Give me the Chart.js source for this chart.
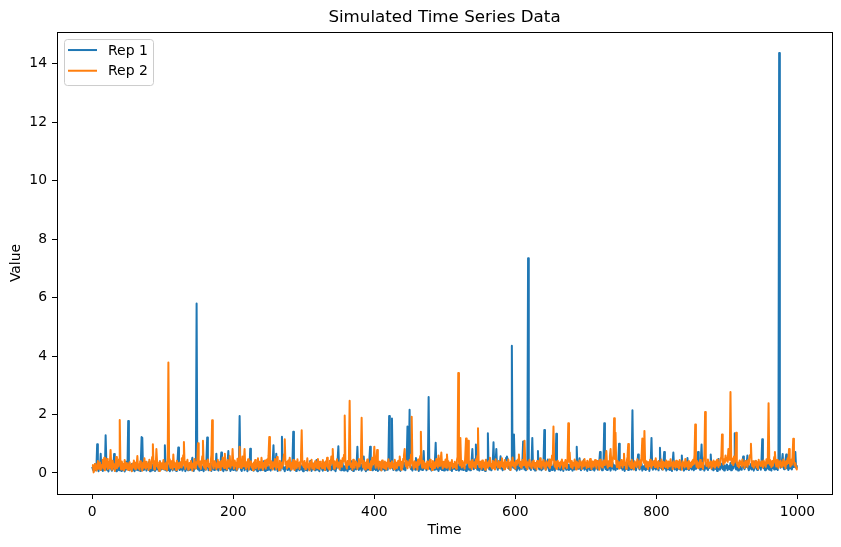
<!DOCTYPE html>
<html>
<head>
<meta charset="utf-8">
<script src="https://cdn.jsdelivr.net/npm/chart.js@4.4.1/dist/chart.umd.min.js"></script>
<style>
  html, body { margin: 0; padding: 0; background: #fff; }
  #chart { display: block; }
</style>
</head>
<body>
<canvas id="chart" width="841" height="547"></canvas>
<script>
const xTicks = [0, 200, 400, 600, 800, 1000];
const yTicks = [0, 2, 4, 6, 8, 10, 12, 14];

// Rep 1, one row = 25 time steps
const rep1 = [
    0.21,0.12,0.08,0.15,0.31,0.09,0.22,0.98,0.14,0.06,0.27,0.18,0.66,0.11,0.24,0.07,0.35,0.13,0.20,1.29,0.42,0.10,0.16,0.05,0.28,
    0.19,0.34,0.12,0.08,0.23,0.15,0.65,0.10,0.29,0.06,0.17,0.41,0.13,0.09,0.25,0.20,0.07,0.32,0.14,0.11,0.26,0.05,0.18,0.38,0.12,
    0.22,1.78,0.15,0.09,0.27,0.13,0.31,0.08,0.19,0.24,0.06,0.16,0.35,0.11,0.20,0.09,0.28,0.14,0.07,0.45,1.23,1.20,0.17,0.10,0.26,
    0.13,0.30,0.08,0.21,0.15,0.37,0.11,0.06,0.24,0.18,0.09,0.29,0.14,0.20,0.07,0.33,0.12,0.19,0.25,0.08,0.16,0.40,0.10,0.22,0.14,
    0.18,0.27,0.12,0.95,0.20,0.08,0.15,0.31,0.10,0.23,0.06,0.17,0.28,0.13,0.09,0.36,0.19,0.11,0.25,0.07,0.21,0.44,0.87,0.16,0.10,
    0.24,0.13,0.30,0.08,0.19,0.15,0.27,0.06,0.21,0.12,0.34,0.09,0.18,0.25,0.11,0.20,0.38,0.52,0.14,0.07,0.23,0.16,0.42,5.80,0.19,
    0.12,0.26,0.08,0.17,0.31,0.10,0.22,0.14,0.06,0.28,0.18,0.11,0.47,1.21,0.20,0.09,0.25,0.13,0.33,0.07,0.19,0.15,0.29,0.10,0.23,
    0.14,0.66,0.12,0.21,0.08,0.27,0.16,0.35,0.70,0.11,0.19,0.06,0.24,0.13,0.30,0.09,0.18,0.40,0.75,0.15,0.22,0.07,0.28,0.12,0.20,
    0.10,0.25,0.16,0.33,0.08,0.19,0.13,0.29,0.45,1.95,0.21,0.11,0.07,0.24,0.17,0.32,0.09,0.20,0.14,0.27,0.06,0.18,0.36,0.12,0.83,
    0.22,0.10,0.17,0.28,0.08,0.15,0.34,0.12,0.21,0.06,0.26,0.14,0.19,0.09,0.31,0.16,0.11,0.23,0.40,0.13,0.07,0.20,0.27,0.10,0.18,
    0.25,0.12,0.19,0.08,0.30,0.15,0.43,0.95,0.20,0.11,0.28,0.66,0.14,0.07,0.22,0.17,0.33,0.09,0.38,1.24,0.26,0.13,0.18,0.06,0.21,
    0.15,0.29,0.10,0.20,0.12,0.35,0.08,0.17,0.24,0.46,1.41,0.19,0.11,0.27,0.07,0.16,0.22,0.13,0.31,0.09,0.18,0.26,0.12,0.20,0.06,
    0.23,0.14,0.30,0.10,0.19,0.08,0.25,0.16,0.12,0.41,0.21,0.07,0.28,0.13,0.18,0.34,0.09,0.22,0.44,0.15,0.11,0.26,0.06,0.20,0.17,
    0.29,0.12,0.08,0.22,0.15,0.36,0.10,0.19,0.27,0.07,0.16,0.24,0.13,0.32,0.09,0.20,0.14,0.38,0.11,0.25,0.06,0.18,0.30,0.47,0.91,
    0.20,0.12,0.27,0.09,0.17,0.33,0.14,0.08,0.23,0.19,0.11,0.29,0.06,0.16,0.25,0.13,0.21,0.40,0.10,0.18,0.07,0.28,0.15,0.22,0.12,
    0.35,0.90,0.17,0.10,0.24,0.14,0.30,0.08,0.19,0.27,0.56,0.12,0.21,0.06,0.16,0.26,0.11,0.33,0.48,0.90,0.20,0.13,0.09,0.25,0.18,
    0.14,0.29,0.10,0.22,0.17,0.07,0.31,0.12,0.20,0.26,0.09,0.15,0.37,0.13,0.23,0.08,0.18,0.28,0.11,0.21,0.50,1.95,0.24,0.16,0.41,
    1.86,0.22,0.10,0.18,0.27,0.13,0.08,0.24,0.16,0.32,0.11,0.20,0.07,0.26,0.15,0.19,0.35,0.12,0.23,0.09,0.30,0.52,1.59,0.28,0.44,
    2.16,0.25,0.13,0.19,0.08,0.30,0.16,0.22,0.11,0.51,0.20,0.14,0.27,0.07,0.18,0.33,0.12,0.24,0.10,0.38,0.75,0.19,0.15,0.29,0.09,
    0.21,0.42,2.60,0.26,0.13,0.18,0.08,0.25,0.15,0.31,0.11,0.45,1.03,0.20,0.12,0.27,0.07,0.17,0.23,0.14,0.30,0.10,0.19,0.26,0.08,
    0.16,0.24,0.12,0.20,0.09,0.28,0.15,0.33,0.11,0.19,0.07,0.22,0.30,0.14,0.18,0.26,0.10,0.21,0.13,0.29,0.08,0.17,0.24,0.12,0.35,
    0.19,0.10,0.27,0.14,0.22,0.07,0.16,0.31,0.12,0.20,0.25,0.09,0.18,0.44,0.82,0.23,0.13,0.30,0.48,0.97,0.21,0.11,0.17,0.26,0.08,
    0.24,0.15,0.33,0.10,0.20,0.13,0.28,0.07,0.18,0.25,0.46,1.36,0.22,0.12,0.30,0.16,0.09,0.27,0.41,1.05,0.19,0.14,0.38,0.82,0.20,
    0.11,0.26,0.17,0.32,0.57,0.15,0.23,0.09,0.19,0.28,0.13,0.40,0.52,0.56,0.48,0.21,0.14,0.27,0.10,0.36,4.35,0.25,0.18,1.32,0.20,
    0.13,0.29,0.08,0.22,0.16,0.31,0.11,0.19,0.26,0.14,0.43,1.08,0.21,0.12,0.28,0.09,0.18,0.37,7.35,0.26,0.15,0.23,0.10,0.40,1.20,
    0.21,0.13,0.27,0.08,0.18,0.33,0.39,0.75,0.20,0.12,0.25,0.16,0.09,0.30,0.14,0.45,1.47,0.22,0.11,0.19,0.28,0.46,0.15,0.07,0.24,
    0.17,0.29,0.10,0.21,0.14,0.32,0.08,0.42,1.34,0.23,0.16,0.12,0.27,0.19,0.09,0.30,0.13,0.22,0.07,0.25,0.18,0.35,0.11,0.20,0.15,
    0.28,0.10,0.19,0.24,0.13,0.31,0.08,0.17,0.26,0.12,0.21,0.40,0.90,0.18,0.14,0.27,0.50,0.20,0.09,0.23,0.15,0.32,0.44,0.11,0.19,
    0.25,0.13,0.07,0.21,0.30,0.16,0.10,0.24,0.18,0.33,0.12,0.20,0.08,0.27,0.15,0.22,0.36,0.11,0.19,0.41,0.72,0.26,0.14,0.09,0.23,
    0.45,1.70,0.20,0.13,0.28,0.10,0.18,0.25,0.15,0.31,0.08,0.21,0.17,0.34,0.12,0.26,0.19,0.09,0.23,0.30,0.14,0.43,1.00,0.37,0.20,
    0.16,0.29,0.11,0.22,0.18,0.07,0.27,0.14,0.20,0.33,0.10,0.24,0.17,0.39,0.12,0.48,2.15,0.25,0.13,0.19,0.28,0.09,0.21,0.35,0.63,
    0.18,0.12,0.26,0.15,0.31,0.08,0.20,0.23,0.13,0.29,0.10,0.17,0.36,0.14,0.22,0.07,0.27,0.44,1.20,0.19,0.11,0.25,0.16,0.30,0.12,
    0.21,0.14,0.28,0.09,0.40,0.86,0.18,0.24,0.12,0.20,0.35,0.72,0.15,0.26,0.08,0.19,0.31,0.13,0.22,0.10,0.27,0.16,0.07,0.38,0.70,
    0.23,0.12,0.19,0.29,0.09,0.17,0.25,0.14,0.32,0.11,0.21,0.60,0.18,0.26,0.08,0.15,0.30,0.13,0.22,0.51,0.19,0.10,0.27,0.16,0.34,
    0.12,0.20,0.25,0.09,0.18,0.31,0.14,0.23,0.42,0.72,0.16,0.28,0.11,0.47,0.97,0.20,0.13,0.26,0.08,0.19,0.33,0.15,0.22,0.10,0.27,
    0.17,0.36,0.63,0.21,0.12,0.25,0.09,0.19,0.30,0.14,0.23,0.07,0.28,0.48,0.16,0.11,0.24,0.18,0.32,0.13,0.20,0.08,0.26,0.15,0.21,
    0.29,0.10,0.18,0.24,0.13,0.34,0.09,0.20,0.27,0.15,0.45,1.36,0.22,0.12,0.19,0.30,0.08,0.25,0.16,0.21,0.11,0.28,0.39,0.56,0.17,
    0.13,0.26,0.20,0.35,0.60,0.18,0.09,0.23,0.15,0.31,0.12,0.20,0.27,0.08,0.19,0.40,0.24,0.14,0.10,0.29,0.17,0.22,0.33,0.11,0.43,
    1.15,0.25,0.16,0.20,0.09,0.28,0.13,0.22,0.34,0.15,0.11,0.26,0.19,0.08,0.30,0.17,0.23,0.12,0.40,0.20,0.14,0.27,0.10,0.46,14.37,
    0.31,0.18,0.24,0.42,0.65,0.20,0.13,0.27,0.45,0.63,0.16,0.22,0.10,0.29,0.15,0.35,0.19,0.12,0.25,0.41,0.20,0.48,0.72,0.18,0.26,
];

// Rep 2, one row = 25 time steps
const rep2 = [
    0.20,0.27,0.02,0.12,0.31,0.18,0.08,0.25,0.41,0.14,0.22,0.36,0.10,0.19,0.28,0.45,0.15,0.52,0.09,0.30,0.21,0.48,0.13,0.38,0.17,
    0.33,0.79,0.24,0.11,0.42,0.19,0.30,0.07,0.26,0.55,0.16,0.35,0.22,0.47,1.81,0.28,0.12,0.39,0.20,0.31,0.09,0.44,0.25,0.15,0.34,
    0.21,0.10,0.29,0.37,0.14,0.26,0.06,0.32,0.19,0.43,0.23,0.13,0.36,0.28,0.58,0.17,0.30,0.11,0.40,0.22,0.27,0.08,0.35,0.18,0.50,
    0.24,0.14,0.38,0.20,0.31,0.10,0.45,0.26,0.16,0.34,0.55,0.98,0.29,0.12,0.41,0.23,0.82,0.36,0.18,0.27,0.07,0.39,0.21,0.33,0.15,
    0.28,0.44,0.13,0.30,0.22,0.36,0.09,0.52,3.78,0.47,0.25,0.17,0.40,0.31,0.12,0.63,0.20,0.35,0.27,0.10,0.42,0.24,0.33,0.16,0.29,
    0.37,0.19,0.50,0.26,0.61,1.06,0.30,0.14,0.38,0.22,0.45,0.11,0.28,0.34,0.18,0.41,0.25,0.08,0.32,0.20,0.48,0.15,0.36,0.27,0.43,
    1.02,0.33,0.21,0.39,0.14,0.30,0.57,1.10,0.26,0.18,0.42,0.12,0.35,0.24,0.46,0.20,0.31,0.09,0.38,0.62,1.80,0.28,0.16,0.40,0.23,
    0.34,0.13,0.29,0.45,0.19,0.37,0.25,0.10,0.41,0.22,0.53,0.30,0.17,0.66,0.27,0.36,0.12,0.44,0.21,0.32,0.58,0.18,0.39,0.26,0.82,
    0.31,0.15,0.43,0.24,0.35,0.11,0.49,0.28,0.20,0.90,0.38,0.17,0.30,0.56,0.23,0.41,0.82,0.26,0.14,0.37,0.21,0.47,0.12,0.33,0.27,
    0.40,0.19,0.30,0.09,0.36,0.24,0.44,0.16,0.32,0.22,0.50,0.13,0.38,0.27,0.18,0.52,0.29,0.11,0.35,0.21,0.43,0.15,0.31,0.46,0.25,
    0.60,1.23,0.34,0.17,0.40,0.26,0.12,0.37,0.22,0.48,0.30,0.14,0.55,0.20,0.33,0.09,0.42,0.27,0.18,0.36,0.24,0.45,0.64,1.15,0.29,
    0.38,0.16,0.31,0.43,0.21,0.52,0.27,0.12,0.35,0.19,0.44,0.25,0.10,0.40,0.30,0.17,0.47,0.23,0.34,0.14,0.39,0.58,1.46,0.26,0.36,
    0.20,0.41,0.13,0.33,0.24,0.50,0.18,0.29,0.09,0.37,0.22,0.45,0.15,0.32,0.27,0.11,0.40,0.21,0.35,0.17,0.48,0.26,0.13,0.38,0.23,
    0.31,0.16,0.44,0.20,0.34,0.10,0.39,0.25,0.52,0.18,0.30,0.12,0.42,0.27,0.56,0.35,0.82,0.29,0.14,0.40,0.22,0.33,0.47,0.19,0.36,
    0.26,0.13,0.43,0.30,0.21,0.50,0.38,0.62,1.97,0.34,0.24,0.15,0.41,0.28,0.55,2.47,0.37,0.20,0.32,0.11,0.45,0.25,0.18,0.39,0.27,
    0.34,0.14,0.30,0.48,0.22,0.37,0.58,1.89,0.31,0.19,0.42,0.26,0.12,0.36,0.23,0.46,0.17,0.33,0.28,0.10,0.40,0.21,0.52,0.29,0.44,
    0.90,0.35,0.18,0.41,0.79,0.27,0.14,0.38,0.23,0.32,0.09,0.43,0.20,0.30,0.16,0.39,0.25,0.12,0.36,0.22,0.47,0.28,0.15,0.34,0.19,
    0.40,0.24,0.31,0.13,0.45,0.21,0.35,0.17,0.29,0.42,0.26,0.56,0.32,0.11,0.38,0.20,0.49,0.60,0.82,0.33,0.22,0.41,0.16,0.36,0.27,
    0.44,0.19,0.63,1.92,0.35,0.25,0.14,0.40,0.29,0.20,0.37,0.12,0.46,0.27,0.33,0.58,1.41,0.30,0.18,0.42,0.24,0.36,0.15,0.31,0.22,
    0.39,0.13,0.34,0.26,0.45,0.20,0.32,0.10,0.41,0.28,0.17,0.37,0.23,0.48,0.30,0.19,0.60,0.35,0.24,0.43,0.70,0.27,0.15,0.38,0.21,
    0.33,0.46,0.18,0.63,0.29,0.40,0.22,0.12,0.36,0.25,0.44,0.16,0.31,0.20,0.38,0.27,0.14,0.42,0.55,3.42,0.37,0.26,1.20,0.30,0.19,
    0.41,0.23,0.35,0.15,0.62,1.18,0.34,0.50,1.10,0.28,0.19,0.39,0.26,0.13,0.44,0.31,0.21,0.37,0.17,0.46,0.29,0.58,1.53,0.32,0.20,
    0.38,0.24,0.14,0.43,0.30,0.20,0.36,0.11,0.45,0.27,0.34,0.18,0.40,0.25,0.52,0.22,0.31,0.15,0.42,0.28,0.37,0.12,0.47,0.26,0.33,
    0.19,0.41,0.29,0.16,0.38,0.24,0.50,0.20,0.35,0.13,0.44,0.30,0.22,0.37,0.17,0.46,0.27,0.33,0.10,0.40,0.25,0.53,0.31,0.21,0.36,
    0.15,0.42,0.28,0.35,0.47,0.63,0.24,0.38,0.18,0.31,0.44,0.26,0.56,1.10,0.33,0.20,0.40,0.13,0.35,0.27,0.45,0.22,0.30,0.16,0.39,
    0.25,0.43,0.18,0.34,0.29,0.12,0.41,0.23,0.36,0.20,0.50,0.30,0.15,0.38,0.26,0.44,0.19,0.33,0.11,0.40,0.28,0.35,0.22,0.46,0.17,
    0.37,0.27,0.60,0.45,1.59,0.32,0.21,0.39,0.14,0.30,0.42,0.24,0.35,0.18,0.28,0.40,0.46,0.26,0.13,0.36,0.22,0.44,0.31,0.17,0.52,
    1.70,0.38,0.70,0.29,0.20,0.41,0.15,0.34,0.25,0.46,0.30,0.12,0.39,0.23,0.33,0.18,0.43,0.27,0.36,0.14,0.40,0.22,0.31,0.48,0.26,
    0.35,0.17,0.42,0.28,0.20,0.37,0.48,0.24,0.13,0.39,0.30,0.21,0.36,0.44,0.26,0.16,0.41,0.29,0.34,0.11,0.45,0.25,0.38,0.19,0.32,
    0.43,0.27,0.36,0.50,0.75,0.30,0.18,0.40,0.24,0.57,0.82,0.33,0.21,0.45,0.62,1.87,0.48,1.38,0.35,0.20,0.41,0.28,0.15,0.37,0.26,
    0.44,0.30,0.19,0.39,0.66,0.27,0.35,0.14,0.42,0.55,0.99,0.31,0.22,0.37,0.17,0.45,0.28,0.33,0.12,0.40,0.25,0.36,0.20,0.47,0.29,
    0.38,0.16,0.43,0.26,0.60,1.18,0.48,0.35,1.44,0.30,0.21,0.40,0.27,0.14,0.37,0.23,0.45,0.31,0.18,0.39,0.26,0.34,0.42,0.20,0.50,
    0.28,0.37,0.15,0.41,0.24,0.33,0.19,0.46,0.29,0.12,0.38,0.25,0.35,0.20,0.43,0.27,0.16,0.39,0.30,0.22,0.47,0.26,0.34,0.13,0.40,
    0.24,0.36,0.18,0.42,0.29,0.20,0.38,0.15,0.44,0.27,0.33,0.11,0.40,0.25,0.35,0.19,0.48,0.30,0.22,0.37,0.14,0.41,0.28,0.34,0.20,
    0.39,0.26,0.45,0.31,0.62,1.66,0.36,0.21,0.40,0.17,0.33,0.27,0.44,0.20,0.35,0.29,0.14,0.42,0.58,2.09,0.38,0.24,0.31,0.46,0.19,
    0.34,0.26,0.40,0.15,0.37,0.22,0.43,0.30,0.18,0.39,0.25,0.45,0.32,0.20,0.36,0.27,0.48,0.55,1.32,0.41,0.29,0.47,0.35,0.60,0.43,
    0.52,0.38,0.82,0.45,0.64,2.77,0.50,0.33,0.42,0.27,0.56,0.36,0.61,1.38,0.40,0.24,0.35,0.19,0.43,0.30,0.38,0.22,0.46,0.28,0.34,
    0.17,0.41,0.26,0.36,0.21,0.44,0.30,0.55,0.62,1.00,0.35,0.23,0.40,0.18,0.33,0.27,0.42,0.20,0.37,0.14,0.45,0.29,0.35,0.24,0.40,
    0.30,0.19,0.43,0.26,0.36,0.21,0.47,0.32,0.60,2.39,0.45,0.28,0.37,0.20,0.41,0.25,0.34,0.55,0.72,0.38,0.22,0.44,0.30,0.17,0.39,
    0.27,0.42,0.20,0.35,0.29,0.46,0.24,0.38,0.16,0.41,0.30,0.50,0.34,0.82,0.36,0.22,0.45,0.28,0.56,1.17,0.40,0.25,0.33,0.19,0.12,
];

const FONT = "'DejaVu Sans', sans-serif";
const C1 = "#1f77b4";
const C2 = "#ff7f0e";

function toPoints(values) {
    return values.map((v, i) => ({ x: i, y: v }));
}

// matplotlib style box: all four spines
const framePlugin = {
    id: "frame",
    afterDraw(chart) {
        const { ctx, chartArea: a } = chart;
        ctx.save();
        ctx.strokeStyle = "#000";
        ctx.lineWidth = 1;
        ctx.strokeRect(Math.round(a.left) + 0.5, Math.round(a.top) + 0.5,
            Math.round(a.right - a.left), Math.round(a.bottom - a.top));
        ctx.restore();
    },
};

// legend drawn inside the axes, upper left
const innerLegend = {
    id: "innerLegend",
    afterDraw(chart) {
        const { ctx, chartArea: a } = chart;
        const x0 = a.left + 7, y0 = a.top + 7;
        ctx.save();
        ctx.fillStyle = "rgba(255,255,255,0.8)";
        ctx.strokeStyle = "#cccccc";
        ctx.lineWidth = 1;
        ctx.beginPath();
        ctx.roundRect(x0 + 0.5, y0 + 0.5, 89, 46, 3);
        ctx.fill();
        ctx.stroke();
        ctx.font = `14px ${FONT}`;
        ctx.textBaseline = "middle";
        chart.data.datasets.forEach((ds, i) => {
            const y = y0 + 11 + i * 20.7;
            ctx.strokeStyle = ds.borderColor;
            ctx.lineWidth = 2;
            ctx.beginPath();
            ctx.moveTo(x0 + 4, y);
            ctx.lineTo(x0 + 33, y);
            ctx.stroke();
            ctx.fillStyle = "#000";
            ctx.fillText(ds.label, x0 + 44, y + 1);
        });
        ctx.restore();
    },
};

new Chart(document.getElementById("chart"), {
    type: "line",
    data: {
        datasets: [
            { label: "Rep 1", data: toPoints(rep1), borderColor: C1, order: 1 },
            { label: "Rep 2", data: toPoints(rep2), borderColor: C2, order: 0 },
        ],
    },
    options: {
        responsive: false,
        animation: false,
        devicePixelRatio: 1,
        layout: { padding: { left: 0, right: 9, top: 0, bottom: 0 } },
        elements: {
            point: { radius: 0 },
            line: { borderWidth: 2, tension: 0, borderJoinStyle: "round", fill: false },
        },
        plugins: {
            legend: { display: false },
            tooltip: { enabled: false },
            title: {
                display: true,
                fullSize: false,
                text: "Simulated Time Series Data",
                color: "#000",
                font: { family: FONT, size: 16.7, weight: "normal" },
                padding: { top: 8, bottom: 4 },
            },
        },
        scales: {
            x: {
                type: "linear",
                min: -49.95,
                max: 1048.95,
                afterBuildTicks: (s) => { s.ticks = xTicks.map((v) => ({ value: v })); },
                afterFit: (s) => { s.height = 53; },
                grid: { drawOnChartArea: false, drawTicks: true, tickLength: 5, tickColor: "#000" },
                border: { display: false },
                ticks: {
                    color: "#000", padding: 5, maxRotation: 0,
                    font: { family: FONT, size: 13.9 },
                    callback: (v) => String(v),
                },
                title: {
                    display: true, text: "Time", color: "#000",
                    font: { family: FONT, size: 13.9 }, padding: { top: 0, bottom: 8 },
                },
            },
            y: {
                type: "linear",
                min: -0.72,
                max: 15.09,
                afterBuildTicks: (s) => { s.ticks = yTicks.map((v) => ({ value: v })); },
                afterFit: (s) => { s.width = 57; },
                grid: { drawOnChartArea: false, drawTicks: true, tickLength: 5, tickColor: "#000" },
                border: { display: false },
                ticks: { color: "#000", padding: 5, font: { family: FONT, size: 13.9 }, callback: (v) => String(v) },
                title: {
                    display: true, text: "Value", color: "#000",
                    font: { family: FONT, size: 13.9 }, padding: { top: 8, bottom: 0 },
                },
            },
        },
    },
    plugins: [framePlugin, innerLegend],
});
</script>
</body>
</html>
